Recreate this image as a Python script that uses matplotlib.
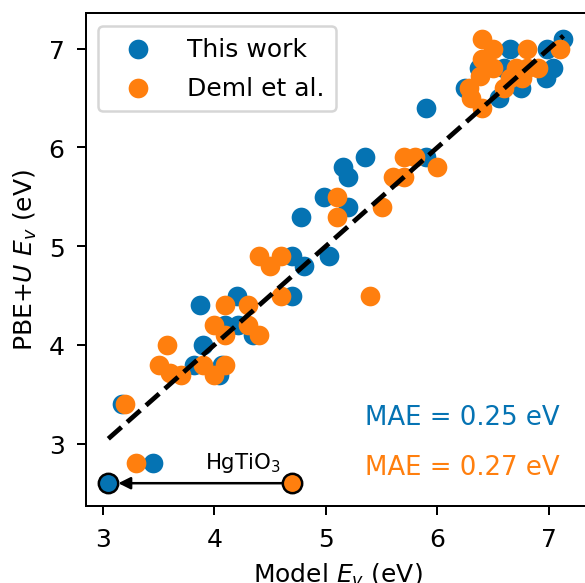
import matplotlib
matplotlib.use("Agg")
import matplotlib.pyplot as plt
import numpy as np

# ---- data ----
this_work_model = [3.17, 3.45, 3.82, 3.90, 3.87, 4.04, 4.07, 4.10, 4.20, 4.21, 4.35,
                   4.70, 4.70, 4.80, 4.78, 5.03, 4.98, 5.15, 5.20, 5.20, 5.35, 5.90,
                   5.90, 6.25, 6.37, 6.55, 6.60, 6.65, 6.75, 6.97, 7.04, 6.98, 7.13]
this_work_pbe = [3.40, 2.80, 3.80, 4.00, 4.40, 3.70, 3.80, 4.20, 4.50, 4.20, 4.10,
                 4.50, 4.90, 4.80, 5.30, 4.90, 5.50, 5.80, 5.70, 5.40, 5.90, 5.90,
                 6.40, 6.60, 6.80, 6.50, 6.80, 7.00, 6.60, 6.70, 6.80, 7.00, 7.10]

deml_model = [3.20, 3.30, 3.50, 3.60, 3.58, 3.70, 3.90, 4.00, 4.00, 4.10, 4.10, 4.10,
              4.30, 4.30, 4.40, 4.40, 4.50, 4.60, 4.60, 5.10, 5.10, 5.40, 5.50, 5.60,
              5.70, 5.70, 5.80, 6.00, 6.28, 6.30, 6.40, 6.38, 6.40, 6.40, 6.50, 6.50,
              6.60, 6.70, 6.65, 6.76, 6.80, 6.90, 6.80, 7.10]
deml_pbe = [3.40, 2.80, 3.80, 3.72, 4.00, 3.70, 3.80, 3.70, 4.20, 3.80, 4.10, 4.40,
            4.40, 4.20, 4.10, 4.90, 4.80, 4.90, 4.50, 5.50, 5.30, 4.50, 5.40, 5.70,
            5.70, 5.90, 5.90, 5.80, 6.60, 6.50, 6.40, 6.72, 6.90, 7.10, 7.00, 6.80,
            6.60, 6.80, 6.70, 6.70, 6.80, 6.80, 7.00, 7.00]

hg_this_work = 3.05
hg_deml = 4.70
hg_pbe = 2.60
hg_label = "HgTiO$_3$"

mae_this_work = 0.25
mae_deml = 0.27

blue = "#0573b3"
orange = "#ff7f0e"

plt.rcParams['font.size'] = 10
fig = plt.figure(figsize=(3.25, 3.244), dpi=180)
ax = fig.add_axes([0.147, 0.132, 0.862, 0.844])

ax.scatter(this_work_model, this_work_pbe, s=62, color=blue, label="This work", zorder=2, linewidths=0)
ax.scatter(deml_model, deml_pbe, s=62, color=orange, label="Deml et al.", zorder=2.1, linewidths=0)

lo = min(this_work_model + [hg_this_work])
hi = max(this_work_model + [hg_this_work])
ax.plot([lo, hi], [lo, hi], "k--", lw=1.9, zorder=3)

ax.scatter([hg_this_work], [hg_pbe], s=60, color=blue, edgecolors="k", linewidths=1, zorder=4)
ax.scatter([hg_deml], [hg_pbe], s=60, color=orange, edgecolors="k", linewidths=1, zorder=4)
ax.annotate("", xy=(hg_this_work, hg_pbe), xytext=(hg_deml, hg_pbe),
            arrowprops=dict(arrowstyle="-|>", color="k", lw=1, shrinkA=4, shrinkB=4,
                            mutation_scale=10), zorder=3)
ax.text((hg_this_work + hg_deml) / 2 + 0.38, hg_pbe + 0.21, hg_label, ha="center", va="center",
        fontsize=8.5)

ax.text(0.94, 0.18, f"MAE = {mae_this_work:.2f} eV", transform=ax.transAxes,
        ha="right", va="center", color=blue, fontsize=10.4)
ax.text(0.94, 0.078, f"MAE = {mae_deml:.2f} eV", transform=ax.transAxes,
        ha="right", va="center", color=orange, fontsize=10.4)

ax.set_xlim(2.85, 7.37)
ax.set_ylim(2.37, 7.36)
ax.set_xticks([3, 4, 5, 6, 7])
ax.set_yticks([3, 4, 5, 6, 7])
ax.tick_params(labelsize=10, pad=5)
ax.set_xlabel("Model $E_v$ (eV)", fontsize=10)
ax.set_ylabel("PBE+$U$ $E_v$ (eV)", fontsize=10)
ax.legend(loc="upper left", fontsize=10, handlelength=2.3, handletextpad=0.8,
          labelspacing=0.6, borderpad=0.45)

fig.savefig("out.png", dpi=180)
